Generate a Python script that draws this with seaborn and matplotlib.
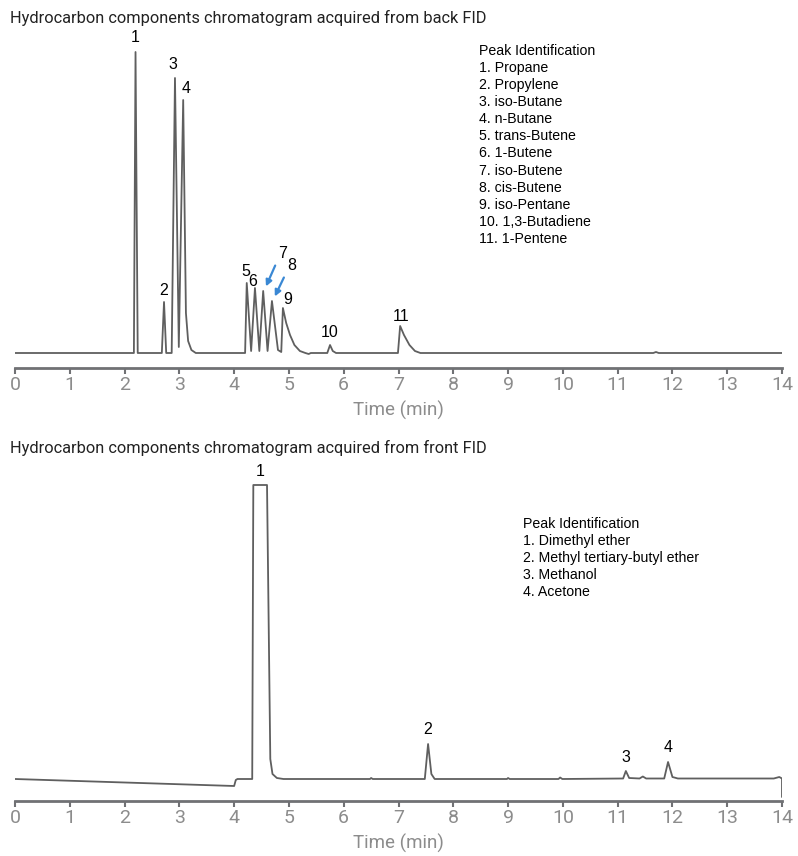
import numpy as np
import pandas as pd
import matplotlib
matplotlib.use("Agg")
import matplotlib.pyplot as plt
import seaborn as sns

# back FID trace (time in min, signal in arbitrary units above baseline)
back_time = [0, 2.17, 2.20, 2.24, 2.68, 2.72, 2.76, 2.86, 2.92, 2.99, 3.07, 3.12, 3.16, 3.22, 3.30,
             4.20, 4.23, 4.31, 4.38, 4.46, 4.53, 4.61, 4.69, 4.80, 4.86, 4.89, 4.95, 5.02, 5.10, 5.20, 5.30,
             5.36, 5.40, 5.70, 5.75, 5.80, 5.86, 6.99, 7.03, 7.10, 7.20, 7.30, 7.40,
             11.65, 11.70, 11.75, 14.0]
back_signal = [0, 0, 301, 0, 0, 51, 0, 0, 275, 6, 253, 40, 12, 3, 0,
               0, 70, 2, 65, 2, 62, 2, 52, 3, 1, 45, 30, 18, 8, 2, 0,
               -1, 0, 0, 8, 2, 0, 0, 27, 18, 8, 2, 0,
               0, 1, 0, 0]

back_peaks = ["1", "2", "3", "4", "5", "6", "7", "8", "9", "10", "11"]
back_peak_time = [2.20, 2.72, 2.92, 3.07, 4.23, 4.38, 4.53, 4.69, 4.89, 5.75, 7.03]
back_peak_height = [301, 51, 275, 253, 70, 65, 62, 52, 45, 8, 27]
back_names = ["Propane", "Propylene", "iso-Butane", "n-Butane", "trans-Butene", "1-Butene",
              "iso-Butene", "cis-Butene", "iso-Pentane", "1,3-Butadiene", "1-Pentene"]

# front FID trace
front_time = [0, 4.00, 4.03, 4.06, 4.33, 4.35, 4.60, 4.66, 4.70, 4.78, 4.90,
              6.48, 6.50, 6.53, 7.48, 7.54, 7.60, 7.66, 8.98, 9.00, 9.03, 9.92, 9.95, 9.99,
              11.10, 11.15, 11.21, 11.40, 11.46, 11.52, 11.85, 11.92, 12.00, 12.10,
              13.85, 13.95, 14.0, 14.0]
front_signal = [0, -7, -1, 0, 0, 294, 294, 20, 5, 1, 0,
                0, 1, 0, 0, 35, 5, 0, 0, 1, 0, 0, 1.5, 0,
                0.5, 8, 1, 0.5, 2.5, 0.5, 0.5, 17, 2, 0.5,
                0.5, 2, 0.5, -18]

front_peaks = ["1", "2", "3", "4"]
front_peak_time = [4.47, 7.54, 11.15, 11.92]
front_peak_height = [294, 35, 8, 17]
front_names = ["Dimethyl ether", "Methyl tertiary-butyl ether", "Methanol", "Acetone"]

W, H = 798, 856
sns.set_style("white")
plt.rcParams["font.family"] = ["Roboto", "DejaVu Sans"]

line_color = "#5f5f5f"
axis_color = "#707174"
tick_color = "#8c8c8c"
label_font = ["Liberation Sans", "DejaVu Sans"]

fig = plt.figure(figsize=(W / 100, H / 100), dpi=100)


def make_axes(top_px, axis_px, ymin, ymax):
    ax = fig.add_axes([15 / W, 1 - axis_px / H, 767 / W, (axis_px - top_px) / H])
    ax.set_xlim(0, 14)
    ax.set_ylim(ymin, ymax)
    sns.despine(ax=ax, left=True, top=True, right=True)
    ax.spines["bottom"].set_color(axis_color)
    ax.spines["bottom"].set_linewidth(2)
    ax.set_yticks([])
    ax.set_xticks(range(15))
    ax.tick_params(axis="x", direction="out", length=4, width=1.5, color=axis_color,
                   labelsize=14, labelcolor=tick_color, pad=2, bottom=True)
    ax.patch.set_alpha(0)
    return ax


def finish_axes(ax):
    ax.set_xlabel("Time (min)", fontsize=13.5, color=tick_color, labelpad=5)
    ax.set_ylabel("")


# top: back FID
ax1 = make_axes(30, 368, -15, 323)
df1 = pd.DataFrame({"time": back_time, "signal": back_signal})
sns.lineplot(data=df1, x="time", y="signal", ax=ax1, sort=False, estimator=None,
             color=line_color, linewidth=1.3)
finish_axes(ax1)

offsets = {"1": (0, 15), "2": (0, 12), "3": (-0.03, 14), "4": (0.05, 12), "5": (-0.02, 12),
           "6": (-0.05, 7), "9": (0.08, 9), "10": (0, 13), "11": (0.01, 10)}
for lab, t, h in zip(back_peaks, back_peak_time, back_peak_height):
    if lab in offsets:
        dx, dy = offsets[lab]
        ax1.text(t + dx, h + dy, lab, ha="center", va="center", fontsize=11.5,
                 family=label_font, color="black", clip_on=False)

# arrows for 7 and 8
for lab, t, h, dx, dy in [("7", back_peak_time[6], back_peak_height[6], 0.30, 38),
                          ("8", back_peak_time[7], back_peak_height[7], 0.30, 36)]:
    ax1.annotate("", xy=(t + 0.03, h + 2), xytext=(t + dx - 0.06, h + dy - 10),
                 arrowprops=dict(arrowstyle="-|>", color="#3a88d4", lw=1.6, mutation_scale=9))
    ax1.text(t + dx + 0.06, h + dy, lab, ha="center", va="center", fontsize=11.5,
             family=label_font, color="black")

legend1 = "Peak Identification\n" + "\n".join(f"{i + 1}. {n}" for i, n in enumerate(back_names))
fig.text(479 / W, 1 - 44 / H, legend1, ha="left", va="top", fontsize=10.2,
         family=label_font, linespacing=1.28, color="black")

fig.text(10 / W, 1 - 18 / H, "Hydrocarbon components chromatogram acquired from back FID",
         ha="left", va="center", fontsize=11.8, color="#222222")

# bottom: front FID
ax2 = make_axes(470, 801, -22, 309)
df2 = pd.DataFrame({"time": front_time, "signal": front_signal})
sns.lineplot(data=df2, x="time", y="signal", ax=ax2, sort=False, estimator=None,
             color=line_color, linewidth=1.3)
finish_axes(ax2)

for lab, t, h in zip(front_peaks, front_peak_time, front_peak_height):
    ax2.text(t, h + 14, lab, ha="center", va="center", fontsize=11.5,
             family=label_font, color="black", clip_on=False)

legend2 = "Peak Identification\n" + "\n".join(f"{i + 1}. {n}" for i, n in enumerate(front_names))
fig.text(523 / W, 1 - 517 / H, legend2, ha="left", va="top", fontsize=10.2,
         family=label_font, linespacing=1.28, color="black")

fig.text(10 / W, 1 - 448 / H, "Hydrocarbon components chromatogram acquired from front FID",
         ha="left", va="center", fontsize=11.8, color="#222222")

fig.savefig("out.png", dpi=100)
